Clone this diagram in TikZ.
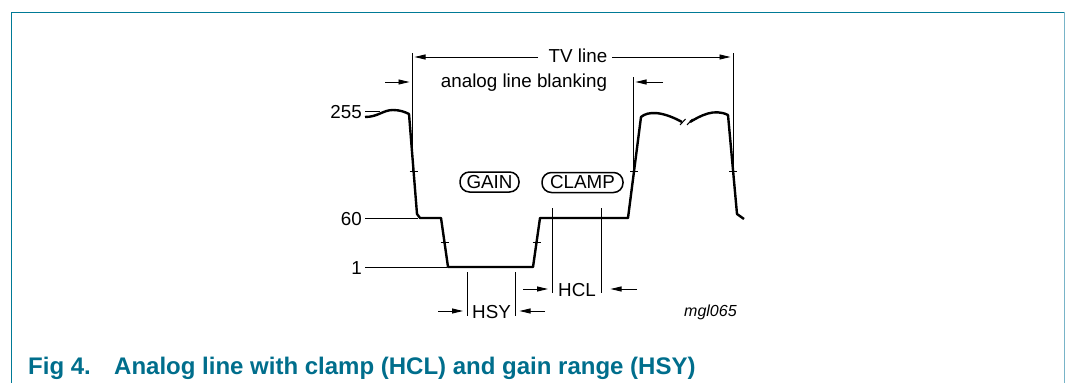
\documentclass[tikz,border=0pt]{standalone}
\usepackage{fontspec}
\setmainfont{Liberation Sans}
\usetikzlibrary{arrows.meta}
\definecolor{frameteal}{RGB}{0,122,150}
\definecolor{edgeteal}{RGB}{120,180,200}
\definecolor{capteal}{RGB}{0,110,140}
\begin{document}
\begin{tikzpicture}[x=1pt,y=-1pt,
  thinline/.style={line width=0.9pt, black},
  wave/.style={line width=2.4pt, line join=round, black},
  dimarrow/.style={line width=0.9pt, -{Triangle[length=11pt,width=5pt]}},
  lbl/.style={font=\fontsize{18.8}{22}\selectfont, inner sep=0pt},
  pill/.style={draw, line width=1.5pt, rounded corners=9.5pt, inner sep=0pt,
    minimum height=20pt, font=\fontsize{18.8}{22}\selectfont},
  tickmark/.style={line width=0.8pt, black},
  captionstyle/.style={font=\fontsize{24}{28}\selectfont\bfseries, text=capteal, inner sep=0pt, anchor=base west}
]
\useasboundingbox (0,0) rectangle (1066,383);
% frame
\draw[frameteal, line width=1.5pt] (11.5,383) -- (11.5,12.3) -- (1064.5,12.3);
\draw[edgeteal, line width=1.5pt] (1064.5,12.3) -- (1064.5,383);

% level labels
\node[lbl, anchor=base east] (l255) at (362,118) {255};
\node[lbl, anchor=base east] (l60) at (362,225) {60};
\node[lbl, anchor=base east] (l1) at (362,274) {1};
\coordinate (t255a) at (365,111); \coordinate (t255b) at (380,111);
\coordinate (t60a) at (365,218); \coordinate (t60b) at (418,218);
\coordinate (t1a) at (365,267); \coordinate (t1b) at (447,267);
\draw[thinline] (t255a) -- (t255b);
\draw[thinline] (t60a) -- (t60b);
\draw[thinline] (t1a) -- (t1b);

% waveform coordinates
\coordinate (w0) at (365,117);
\coordinate (w1) at (393,110);
\coordinate (w2) at (409,114);
\coordinate (w3) at (417,214);
\coordinate (w4) at (420,218);
\coordinate (w5) at (441,218);
\coordinate (w6) at (448,267);
\coordinate (w7) at (533,267);
\coordinate (w8) at (540,218);
\coordinate (w9) at (628,218);
\coordinate (w10) at (641,117);
\coordinate (w11) at (682,122);
\coordinate (w12) at (690,122);
\coordinate (w13) at (728,115);
\coordinate (w14) at (737,214);
\coordinate (w15) at (744,219);
\draw[wave] (w0) .. controls (378,117) and (383,110) .. (w1)
  .. controls (400,110) and (405,112) .. (w2) -- (w3) -- (w4) -- (w5) -- (w6)
  -- (w7) -- (w8) -- (w9) -- (w10) .. controls (648,111) and (662,111) .. (w11);
\draw[wave] (w12) .. controls (700,116) and (714,108) .. (w13) -- (w14) -- (w15);
% break marks
\coordinate (b1a) at (680,125); \coordinate (b1b) at (685.5,119);
\coordinate (b2a) at (687,125); \coordinate (b2b) at (692.5,119);
\draw[line width=1pt] (b1a) -- (b1b);
\draw[line width=1pt] (b2a) -- (b2b);

% edge ticks
\foreach \tx/\ty in {413.5/171, 444.5/242, 536.5/242, 634/171, 733/171}
  \draw[tickmark] (\tx-4,\ty) -- (\tx+4,\ty);

% vertical reference lines
\coordinate (vLt) at (412,53); \coordinate (vLb) at (412,171);
\coordinate (vRt) at (733,53); \coordinate (vRb) at (733,171);
\coordinate (vMt) at (633,77); \coordinate (vMb) at (633,171);
\draw[thinline] (vLt) -- (vLb);
\draw[thinline] (vRt) -- (vRb);
\draw[thinline] (vMt) -- (vMb);

% TV line
\node[lbl, anchor=base] (tv) at (578,62) {TV line};
\coordinate (tvl) at (538,57); \coordinate (tvr) at (612,57);
\coordinate (tvtipl) at (414.5,57); \coordinate (tvtipr) at (730.5,57);
\draw[dimarrow] (tvl) -- (tvtipl);
\draw[dimarrow] (tvr) -- (tvtipr);

% analog line blanking
\node[lbl, anchor=base] (blank) at (524,87) {analog line blanking};
\coordinate (bla) at (385,82); \coordinate (blb) at (409.5,82);
\coordinate (brA) at (663,82); \coordinate (brB) at (635.5,82);
\draw[dimarrow] (bla) -- (blb);
\draw[dimarrow] (brA) -- (brB);

% GAIN / CLAMP
\node[pill, minimum width=59pt] (gain) at (489.5,182) {GAIN};
\node[pill, minimum width=81pt] (clamp) at (582.5,182.5) {CLAMP};

% HCL
\coordinate (hcl1t) at (552,208); \coordinate (hcl1b) at (552,293);
\coordinate (hcl2t) at (601,208); \coordinate (hcl2b) at (601,293);
\draw[thinline] (hcl1t) -- (hcl1b);
\draw[thinline] (hcl2t) -- (hcl2b);
\node[lbl, anchor=base] (hcl) at (577,296) {HCL};
\coordinate (hcla) at (523,289); \coordinate (hclb) at (548,289);
\coordinate (hclc) at (637,289); \coordinate (hcld) at (610.5,289);
\draw[dimarrow] (hcla) -- (hclb);
\draw[dimarrow] (hclc) -- (hcld);

% HSY
\coordinate (hsy1t) at (467,272); \coordinate (hsy1b) at (467,316);
\coordinate (hsy2t) at (515,272); \coordinate (hsy2b) at (515,316);
\draw[thinline] (hsy1t) -- (hsy1b);
\draw[thinline] (hsy2t) -- (hsy2b);
\node[lbl, anchor=base] (hsy) at (491.5,318) {HSY};
\coordinate (hsya) at (438,311); \coordinate (hsyb) at (463,311);
\coordinate (hsyc) at (545,311); \coordinate (hsyd) at (519.5,311);
\draw[dimarrow] (hsya) -- (hsyb);
\draw[dimarrow] (hsyc) -- (hsyd);

% figure id
\node[anchor=base west, inner sep=0pt, font=\fontsize{16}{18}\selectfont\itshape] (mgl) at (684,316) {mgl065};

% caption
\node[captionstyle] (fig) at (28,374) {Fig 4.};
\node[captionstyle] (cap) at (114,374) {Analog line with clamp (HCL) and gain range (HSY)};
\end{tikzpicture}
\end{document}
